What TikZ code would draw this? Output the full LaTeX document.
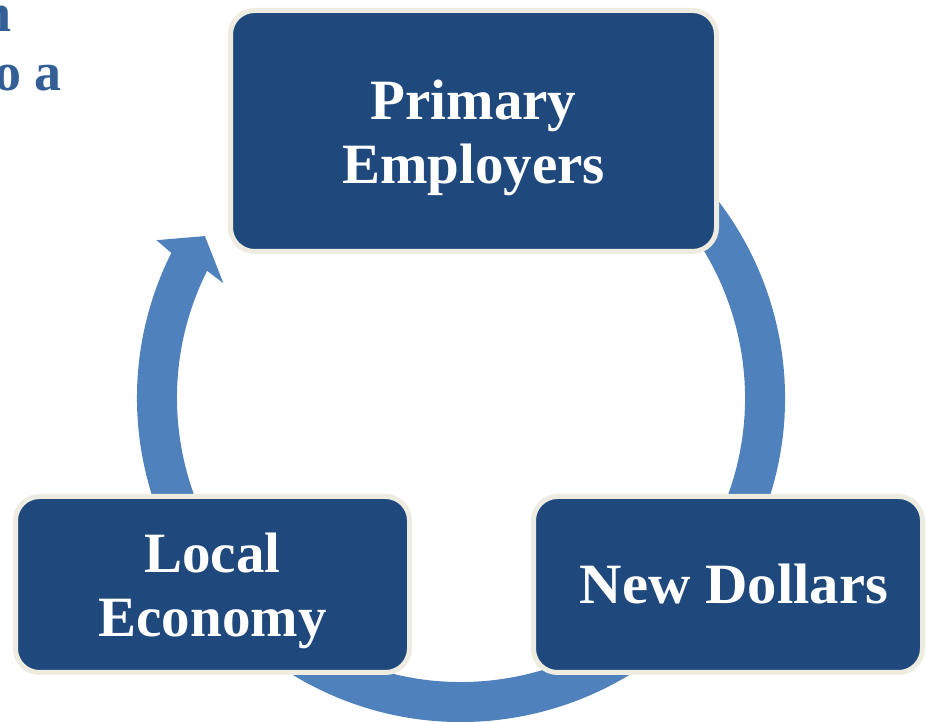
\documentclass[tikz,border=0pt]{standalone}
\usepackage{fontspec}
\setmainfont{Liberation Serif}
\definecolor{boxblue}{RGB}{31,73,125}
\definecolor{ringblue}{RGB}{79,129,189}
\definecolor{cream}{RGB}{238,236,225}
\definecolor{txtblue}{RGB}{52,95,150}
\begin{document}
\begin{tikzpicture}[x=1pt,y=1pt,
  box/.style={draw=cream, line width=5pt, fill=boxblue, rounded corners=24pt,
    inner sep=0pt},
  boxtext/.style={text=white, inner sep=0pt, align=center,
    font=\bfseries\fontsize{57}{64}\selectfont},
  sidetext/.style={text=txtblue, anchor=base east, inner sep=0pt,
    font=\bfseries\fontsize{54}{60}\selectfont}]
\useasboundingbox (0,0) rectangle (926,722);
\clip (0,0) rectangle (926,722);
\fill[white] (0,0) rectangle (926,722);
% partial side text
\node[sidetext] (t1) at (12,690) {n};
\node[sidetext] (t2) at (62,631) {o a};
% circular arrow
\begin{scope}[shift={(461,324)}]
  \draw[ringblue, line width=40pt] (60:304pt) arc[start angle=60, end angle=-206.8, radius=304pt];
  \fill[ringblue] (153.4:284) -- (154.2:264) -- (147.7:303) -- (152.6:343) -- (153.4:324) -- cycle;
\end{scope}
% boxes
\node[box, minimum width=486pt, minimum height=241pt] (pe) at (473.5,591) {};
\node[box, minimum width=394pt, minimum height=176pt] (le) at (212.5,137.5) {};
\node[box, minimum width=389pt, minimum height=176pt] (nd) at (728,137.5) {};
% texts
\node[boxtext] (pet) at ([yshift=-7pt]pe.center) {Primary\\Employers};
\node[boxtext] (let) at ([yshift=-6pt]le.center) {Local\\Economy};
\node[boxtext, xscale=1.03] (ndt) at ([xshift=6pt]nd.center) {New Dollars};
\end{tikzpicture}
\end{document}
